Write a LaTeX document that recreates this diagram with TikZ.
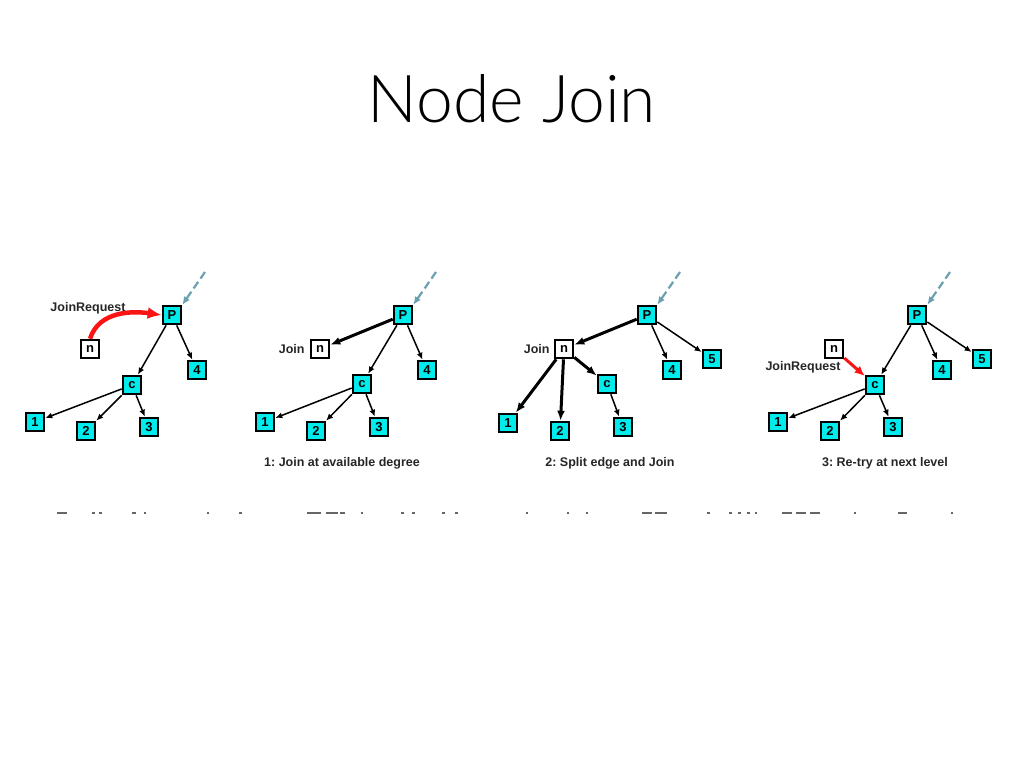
\documentclass[tikz,border=0pt]{standalone}
\usepackage{fontspec}
\setmainfont{Liberation Sans}
\newfontfamily\titlefont{Lato Light}
\usetikzlibrary{arrows.meta, positioning}
\definecolor{peercyan}{RGB}{0,236,236}
\definecolor{feedblue}{RGB}{108,160,176}
\definecolor{reqred}{RGB}{250,20,20}
\tikzstyle{peer}=[draw,fill=peercyan,rectangle,line width=2.6pt,minimum size=18pt,inner sep=0pt,font=\bfseries\fontsize{13}{13}\selectfont]
\tikzstyle{joiner}=[peer,fill=white]
\tikzstyle{lbl}=[font=\bfseries\fontsize{12.5}{13}\selectfont,text=black!85,inner sep=0pt]
\tikzstyle{edge}=[-{Latex[length=7pt,width=6pt]},line width=1.5pt]
\tikzstyle{splitedge}=[-{Latex[length=10pt,width=8pt]},line width=3pt]
\tikzstyle{feed}=[-{Latex[length=8pt,width=7pt]},feedblue,line width=2.2pt,dash pattern=on 8pt off 4pt]
\tikzstyle{request}=[-{Latex[length=14pt,width=12pt]},reqred,line width=4.5pt]

\begin{document}
\frenchspacing
\begin{tikzpicture}[x=1pt,y=-1pt]
  \useasboundingbox[fill=white] (0,0) rectangle (1024,768);
  \node[font=\titlefont\fontsize{66}{66}\selectfont] (title) at (512,99) {Node Join};

  % 0: join request sent to P
  \node[peer] (p1) at (172,315) {P};
  \node[joiner] (n1) at (90,349) {n};
  \node[peer] (c1) at (132,385) {c};
  \node[peer] (d1) at (197,370) {4};
  \node[peer] (a1) at (35,422) {1};
  \node[peer] (b1) at (86,431) {2};
  \node[peer] (e1) at (149,427) {3};
  \coordinate (up1) at (205,272);
  \node[lbl] (req1) at (88,308) {JoinRequest};
  \draw[feed] (up1) -- (p1.north east);
  \draw[edge] (p1) -- (c1);
  \draw[edge] (p1) -- (d1);
  \draw[edge] (c1) -- (a1);
  \draw[edge] (c1) -- (b1);
  \draw[edge] (c1) -- (e1);
  \draw[request] (n1.north) to[out=72,in=172] (p1.west);

  % 1: join at available degree
  \node[peer] (p2) at (403,315) {P};
  \node[joiner] (n2) at (320,349) {n};
  \node[peer] (c2) at (362,384) {c};
  \node[peer] (d2) at (427,370) {4};
  \node[peer] (a2) at (265,422) {1};
  \node[peer] (b2) at (316,431) {2};
  \node[peer] (e2) at (379,427) {3};
  \coordinate (up2) at (436,272);
  \node[lbl, left=5pt of n2] (join2) {Join};
  \node[lbl] (cap2) at (342,463) {1: Join at available degree};
  \draw[feed] (up2) -- (p2.north east);
  \draw[splitedge] (p2) -- (n2);
  \draw[edge] (p2) -- (c2);
  \draw[edge] (p2) -- (d2);
  \draw[edge] (c2) -- (a2);
  \draw[edge] (c2) -- (b2);
  \draw[edge] (c2) -- (e2);

  % 2: split edge and join
  \node[peer] (p3) at (647,315) {P};
  \node[joiner] (n3) at (564,349) {n};
  \node[peer] (c3) at (607,384) {c};
  \node[peer] (d3) at (672,370) {4};
  \node[peer] (f3) at (712,359) {5};
  \node[peer] (a3) at (508,423) {1};
  \node[peer] (b3) at (560,431) {2};
  \node[peer] (e3) at (623,427) {3};
  \coordinate (up3) at (680,272);
  \node[lbl, left=4pt of n3] (join3) {Join};
  \node[lbl] (cap3) at (610,463) {2: Split edge and Join};
  \draw[feed] (up3) -- (p3.north east);
  \draw[splitedge] (p3) -- (n3);
  \draw[edge] (p3) -- (d3);
  \draw[edge] (p3) -- (f3);
  \draw[splitedge] (n3) -- (a3);
  \draw[splitedge] (n3) -- (b3);
  \draw[splitedge] (n3) -- (c3);
  \draw[edge] (c3) -- (e3);

  % 3: re-try at next level
  \node[peer] (p4) at (917,315) {P};
  \node[joiner] (n4) at (834,349) {n};
  \node[peer] (c4) at (875,385) {c};
  \node[peer] (d4) at (942,370) {4};
  \node[peer] (f4) at (982,359) {5};
  \node[peer] (a4) at (778,422) {1};
  \node[peer] (b4) at (830,431) {2};
  \node[peer] (e4) at (893,427) {3};
  \coordinate (up4) at (950,272);
  \node[lbl] (req4) at (803,367) {JoinRequest};
  \node[lbl] (cap4) at (885,463) {3: Re-try at next level};
  \draw[feed] (up4) -- (p4.north east);
  \draw[edge] (p4) -- (c4);
  \draw[edge] (p4) -- (d4);
  \draw[edge] (p4) -- (f4);
  \draw[edge] (c4) -- (a4);
  \draw[edge] (c4) -- (b4);
  \draw[edge] (c4) -- (e4);
  \draw[request, line width=3pt, -{Latex[length=10pt,width=9pt]}] (n4) -- (c4);

  % clipped caption line
  \foreach \x/\w in {57/10,92/3,99/3,132/4,144/2,207/2,239/3,307/14,326/12,340/5,361/2,401/3,412/3,442/3,455/3,526/2,567/2,586/2,642/10,655/12,707/3,729/3,738/3,747/3,755/2,782/10,796/10,810/10,854/2,898/9,951/2}
    \fill[black!60] (\x,512) rectangle +(\w,1.6);
\end{tikzpicture}
\end{document}
